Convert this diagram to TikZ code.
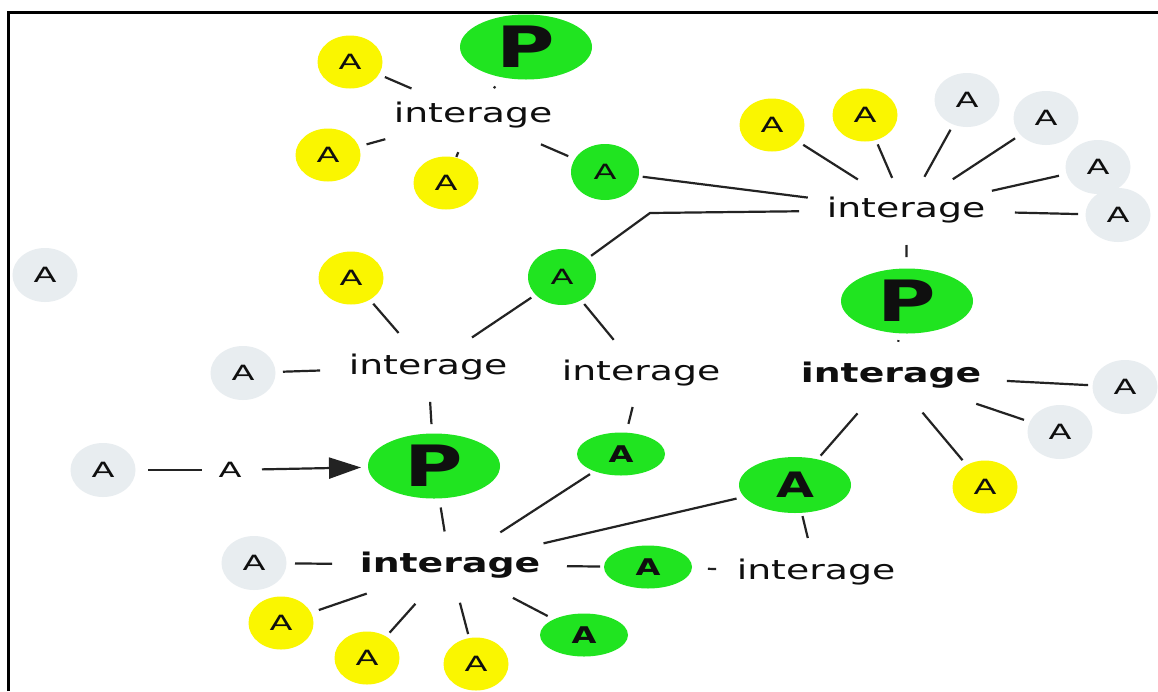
\documentclass[tikz,border=0pt]{standalone}
\usepackage{fontspec}
\setmainfont{DejaVu Sans}
\usetikzlibrary{shapes.geometric,arrows.meta}
\definecolor{yel}{RGB}{250,246,0}
\definecolor{grn}{RGB}{32,228,32}
\definecolor{gry}{RGB}{232,237,240}
\definecolor{lc}{RGB}{35,35,35}
\definecolor{tc}{RGB}{15,15,15}
\newcommand\sx[1]{\scalebox{1.4}[1]{#1}}
\newcommand\sa[1]{\scalebox{1.6}[1]{#1}}
\newcommand\lnk[4]{\draw[conn,shorten <=#3pt,shorten >=#4pt] (#1.center) -- (#2.center);}
\begin{document}
\begin{tikzpicture}[x=1pt,y=-1pt,
 conn/.style={draw=lc,line width=2.2pt},
 bub/.style={ellipse,inner sep=0pt,text=tc,font=\fontsize{21}{21}\selectfont},
 ya/.style={bub,fill=yel,minimum width=65pt,minimum height=53pt},
 ga/.style={bub,fill=grn,minimum width=68pt,minimum height=56pt},
 wa/.style={bub,fill=gry,minimum width=65pt,minimum height=54pt},
 gb/.style={bub,fill=grn,minimum width=88pt,minimum height=43pt,font=\fontsize{23}{23}\selectfont\bfseries},
 gbig/.style={bub,fill=grn,minimum width=112pt,minimum height=56pt,font=\fontsize{35}{35}\selectfont\bfseries},
 gp/.style={bub,fill=grn,minimum width=132pt,minimum height=65pt,font=\fontsize{57}{57}\selectfont\bfseries},
 lab/.style={inner sep=0pt,text=tc,font=\fontsize{27}{27}\selectfont},
 blab/.style={inner sep=0pt,text=tc,font=\fontsize{27}{27}\selectfont\bfseries},
]
\useasboundingbox (0,0) rectangle (1158,691);
\fill[white] (0,0) rectangle (1158,691);
\draw[line width=3pt,black] (8,691) -- (8,12) -- (1158,12);

% top cluster
\node[gp] (P1) at (526,47) {\sx{P}};
\node[lab] (T1) at (473,115) {\sx{interage}};
\node[ya] (Y1) at (350,62) {\sa{A}};
\node[ya] (Y2) at (328,155) {\sa{A}};
\node[ya] (Y3) at (446,183) {\sa{A}};
\node[ga] (G1) at (605,172) {\sa{A}};

% right cluster
\node[lab] (R) at (906,210) {\sx{interage}};
\node[ya] (Y4) at (772,125) {\sa{A}};
\node[ya] (Y5) at (865,115) {\sa{A}};
\node[wa] (W1) at (967,100) {\sa{A}};
\node[wa] (W2) at (1046,118) {\sa{A}};
\node[wa] (W3) at (1098,167) {\sa{A}};
\node[wa] (W4) at (1118,215) {\sa{A}};
\node[gp] (P2) at (907,301) {\sx{P}};
\coordinate (K) at (650,213);

% middle
\node[wa] (W5) at (45,275) {\sa{A}};
\node[ya] (Y6) at (351,278) {\sa{A}};
\node[ga] (G2) at (562,277) {\sa{A}};
\node[lab] (M1) at (428,367) {\sx{interage}};
\node[wa] (W6) at (243,373) {\sa{A}};
\node[lab] (M2) at (641,373) {\sx{interage}};
\node[gp] (P3) at (434,466) {\sx{P}};
\node[wa] (W7) at (103,470) {\sa{A}};
\node[inner sep=0pt,text=tc,font=\fontsize{21}{21}\selectfont] (At) at (230,470) {\sa{A}};
\node[gb] (G3) at (621,454) {\sx{A}};
\node[blab] (B1) at (891,375) {\sx{interage}};
\node[wa] (W8) at (1125,387) {\sa{A}};
\node[wa] (W9) at (1060,432) {\sa{A}};
\node[ya] (Y7) at (985,487) {\sa{A}};
\node[gbig] (G4) at (795,485) {\sx{A}};

% bottom
\node[blab] (B2) at (450,565) {\sx{interage}};
\node[wa] (W10) at (254,563) {\sa{A}};
\node[gb] (G5) at (648,567) {\sx{A}};
\node[lab] (I2) at (816,572) {\sx{interage}};
\node[ya] (Y8) at (281,623) {\sa{A}};
\node[ya] (Y9) at (367,658) {\sa{A}};
\node[ya] (Y10) at (476,664) {\sa{A}};
\node[gb] (G6) at (584,635) {\sx{A}};

% connectors
\lnk{Y1}{T1}{38}{67}
\lnk{P1}{T1}{50}{34}
\lnk{Y2}{T1}{40}{91}
\lnk{Y3}{T1}{28}{40}
\lnk{T1}{G1}{74}{40}
\lnk{Y4}{R}{37}{57}
\lnk{Y5}{R}{32}{35}
\lnk{W1}{R}{34}{38}
\lnk{W2}{R}{37}{56}
\lnk{W3}{R}{40}{88}
\lnk{W4}{R}{40}{109}
\lnk{G1}{R}{38}{99}
\draw[conn,shorten <=36pt,shorten >=107pt] (G2.center) -- (K) -- (R.center);
\lnk{R}{P2}{35}{44}
\lnk{Y6}{M1}{34}{45}
\lnk{G2}{M1}{37}{53}
\lnk{W6}{M1}{40}{108}
\lnk{M1}{P3}{35}{42}
\lnk{G2}{M2}{35}{43}
\lnk{M2}{G3}{35}{31}
\lnk{W7}{At}{45}{28}
\draw[conn,-{Triangle[length=32pt,width=21pt]},shorten <=32pt,shorten >=73pt] (At.center) -- (P3.center);
\lnk{P3}{B2}{42}{34}
\lnk{G3}{B2}{37}{60}
\lnk{G4}{B2}{60}{96}
\lnk{P2}{B1}{40}{34}
\lnk{B1}{W8}{116}{37}
\lnk{B1}{W9}{90}{38}
\lnk{B1}{Y7}{49}{35}
\lnk{B1}{G4}{51}{39}
\lnk{G4}{I2}{32}{35}
\lnk{W10}{B2}{41}{118}
\lnk{B2}{G5}{117}{48}
\lnk{G5}{I2}{60}{100}
\lnk{Y8}{B2}{40}{88}
\lnk{Y9}{B2}{34}{52}
\lnk{Y10}{B2}{31}{39}
\lnk{G6}{B2}{41}{71}
\end{tikzpicture}
\end{document}
